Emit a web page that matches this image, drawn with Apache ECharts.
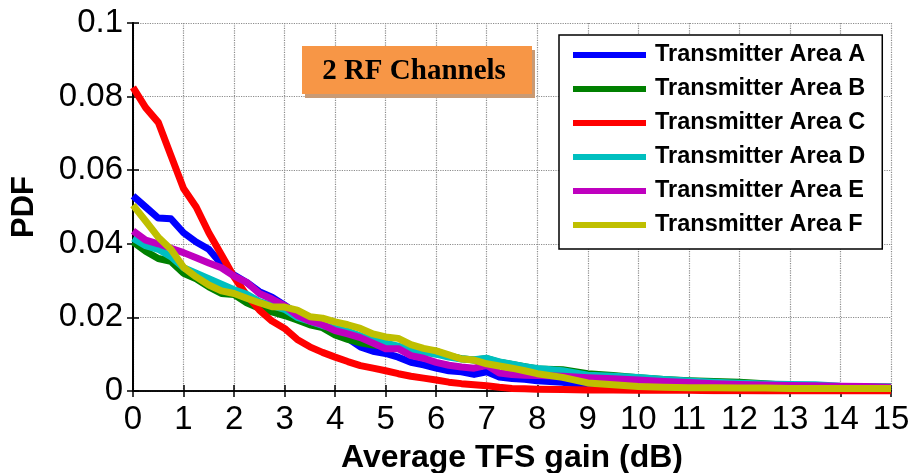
<!DOCTYPE html>
<html>
<head>
<meta charset="utf-8">
<script src="https://cdn.jsdelivr.net/npm/echarts@6/dist/echarts.min.js"></script>
<style>
html,body{margin:0;padding:0;background:#fff;}
#chart{width:911px;height:473px;}
</style>
</head>
<body>
<div id="chart"></div>
<script>
// x positions (dB)
const xs = [0,0.25,0.5,0.75,1,1.25,1.5,1.75,2,2.25,2.5,2.75,3,3.25,3.5,3.75,4,4.25,4.5,4.75,5,5.25,5.5,5.75,6,6.25,6.5,6.75,7,7.25,7.5,7.75,8,8.5,9,9.5,10,10.5,11,11.5,12,12.5,13,13.5,14,14.5,15];

const seriesNames = ['Transmitter Area A','Transmitter Area B','Transmitter Area C','Transmitter Area D','Transmitter Area E','Transmitter Area F'];

const areaA = [0.053,0.050,0.047,0.0468,0.043,0.0405,0.0385,0.0345,0.0315,0.0295,0.027,0.0255,0.0233,0.021,0.0193,0.0177,0.0155,0.0143,0.012,0.0108,0.0102,0.0092,0.0078,0.0071,0.0062,0.0055,0.0052,0.0045,0.0052,0.0038,0.0034,0.0032,0.0028,0.0024,0.0015,0.0012,0.0010,0.0008,0.0007,0.0006,0.0006,0.0005,0.0005,0.0005,0.0004,0.0004,0.0004];
const areaB = [0.0405,0.038,0.036,0.0352,0.032,0.0305,0.0283,0.0265,0.0262,0.024,0.0225,0.0215,0.0205,0.0193,0.018,0.0172,0.0152,0.014,0.0131,0.0125,0.0122,0.0118,0.011,0.0112,0.0108,0.0095,0.0088,0.0084,0.0088,0.0078,0.0072,0.0066,0.0060,0.0058,0.0047,0.0042,0.0036,0.0031,0.0028,0.0026,0.0024,0.0020,0.0015,0.0013,0.0012,0.0011,0.0011];
const areaC = [0.0825,0.077,0.073,0.064,0.055,0.050,0.043,0.037,0.031,0.026,0.022,0.019,0.017,0.014,0.012,0.0105,0.0092,0.0080,0.0069,0.0062,0.0055,0.0047,0.0040,0.0035,0.0030,0.0024,0.0020,0.0017,0.0014,0.0010,0.0007,0.0006,0.0005,0.0004,0.0003,0.0003,0.0002,0.0002,0.0002,0.0001,0.0001,0,0,0,0,0,0];
const areaD = [0.0415,0.0395,0.0385,0.0365,0.0335,0.032,0.0305,0.029,0.0275,0.0263,0.0243,0.0232,0.0222,0.0200,0.019,0.0178,0.017,0.0162,0.015,0.0138,0.0130,0.0122,0.0112,0.0106,0.0100,0.0092,0.0087,0.0085,0.0089,0.0079,0.0073,0.0066,0.0061,0.0055,0.0043,0.0040,0.0037,0.0031,0.0027,0.0024,0.0021,0.0019,0.0018,0.0017,0.0013,0.0012,0.0011];
const areaE = [0.0435,0.041,0.040,0.0388,0.0376,0.0362,0.0348,0.0335,0.0312,0.0295,0.0265,0.0250,0.0232,0.0205,0.0190,0.0180,0.0164,0.0155,0.0145,0.0130,0.0115,0.0115,0.0096,0.0089,0.0078,0.0070,0.0065,0.0062,0.0070,0.0049,0.0045,0.0043,0.0042,0.0040,0.0036,0.0033,0.0030,0.0026,0.0023,0.0020,0.0018,0.0016,0.0015,0.0014,0.0013,0.0012,0.0010];
const areaF = [0.0505,0.0462,0.0418,0.0385,0.0336,0.031,0.0288,0.0272,0.0265,0.0252,0.024,0.0229,0.0228,0.022,0.0202,0.0198,0.0188,0.018,0.0170,0.0155,0.0147,0.0143,0.0126,0.0116,0.0109,0.0098,0.0087,0.0084,0.0074,0.0068,0.0062,0.0055,0.0047,0.0037,0.0022,0.0017,0.0012,0.0010,0.0009,0.0009,0.0008,0.0008,0.0007,0.0007,0.0007,0.0007,0.0007];

const seriesValues = [areaA, areaB, areaC, areaD, areaE, areaF];
const colors = ['#0000ff','#008000','#ff0000','#00bfbf','#bf00bf','#bfbf00'];

const xTicks = [0,1,2,3,4,5,6,7,8,9,10,11,12,13,14,15];
const yTicks = [0,0.02,0.04,0.06,0.08,0.1];
const annotation = '2 RF Channels';
const xTitle = 'Average TFS gain (dB)';
const yTitle = 'PDF';

const chart = echarts.init(document.getElementById('chart'), null, {renderer:'canvas'});

const gridBox = {left:133, top:23, right:20, bottom:82, containLabel: false, outerBoundsMode: 'none'};

const series = seriesValues.map((vals, i) => ({
  name: seriesNames[i],
  type: 'line',
  data: vals.map((v, k) => [xs[k], v]),
  showSymbol: false,
  symbol: 'none',
  lineStyle: {width: 7, color: colors[i], join: 'round'},
  itemStyle: {color: colors[i]},
  z: 2 + i
}));

const axisFont = {fontFamily: 'Liberation Sans, Arial, sans-serif', fontSize: 33, color: '#000'};

const option = {
  animation: false,
  backgroundColor: '#fff',
  grid: gridBox,
  xAxis: [{
    type: 'value', min: 0, max: 15, interval: 1,
    name: xTitle, nameLocation: 'middle', nameGap: 51,
    nameTextStyle: {fontFamily: 'Liberation Sans, Arial, sans-serif', fontSize: 32, fontWeight: 'bold', color: '#000'},
    axisLine: {show: true, onZero: false, lineStyle: {color: '#000', width: 1.5}},
    axisTick: {show: true, inside: true, length: 6, lineStyle: {color: '#000', width: 1.5}},
    axisLabel: Object.assign({margin: 12, formatter: v => String(v)}, axisFont),
    splitLine: {show: true, lineStyle: {color: '#8c8c8c', type: 'dotted', width: 1.2}}
  }, {
    type: 'value', min: 0, max: 15, interval: 1, position: 'top',
    axisLine: {show: true, lineStyle: {color: '#000', width: 1.5}},
    axisTick: {show: true, inside: true, length: 6, lineStyle: {color: '#000', width: 1.5}},
    axisLabel: {show: false}, splitLine: {show: false}
  }],
  yAxis: [{
    type: 'value', min: 0, max: 0.1, interval: 0.02,
    name: yTitle, nameLocation: 'middle', nameGap: 93, nameRotate: 90,
    nameTextStyle: {fontFamily: 'Liberation Sans, Arial, sans-serif', fontSize: 31, fontWeight: 'bold', color: '#000'},
    axisLine: {show: true, onZero: false, lineStyle: {color: '#000', width: 2}},
    axisTick: {show: true, inside: true, length: 6, lineStyle: {color: '#000', width: 1.5}},
    axisLabel: Object.assign({margin: 10, formatter: v => String(parseFloat(v.toFixed(2)))}, axisFont),
    splitLine: {show: true, lineStyle: {color: '#8c8c8c', type: 'dotted', width: 1.2}}
  }, {
    type: 'value', min: 0, max: 0.1, interval: 0.02, position: 'right',
    axisLine: {show: true, lineStyle: {color: '#000', width: 1.5}},
    axisTick: {show: true, inside: true, length: 6, lineStyle: {color: '#000', width: 1.5}},
    axisLabel: {show: false}, splitLine: {show: false}
  }],
  legend: {
    show: true,
    orient: 'vertical',
    left: 559, top: 35,
    data: seriesNames,
    backgroundColor: '#fff',
    borderColor: '#000', borderWidth: 1.5,
    padding: [8, 17, 12, 14],
    itemWidth: 73, itemHeight: 6, itemGap: 10,
    icon: 'rect',
    textStyle: {fontFamily: 'Liberation Sans, Arial, sans-serif', fontSize: 23.5, fontWeight: 'bold', color: '#000', lineHeight: 24, padding: [0,0,0,4]}
  },
  graphic: [
    {type: 'rect', left: 305, top: 50, shape: {width: 230, height: 48}, style: {fill: '#c99a74'}, z: 10},
    {type: 'rect', left: 302, top: 46, shape: {width: 230, height: 48}, style: {fill: '#f79646'}, z: 11},
    {type: 'text', z: 12,
     style: {text: annotation, x: 414, y: 72, textAlign: 'center', textVerticalAlign: 'middle',
             font: 'bold 29px "Liberation Serif", "Times New Roman", serif', fill: '#000'}}
  ],
  series: series
};

chart.setOption(option);
</script>
</body>
</html>
